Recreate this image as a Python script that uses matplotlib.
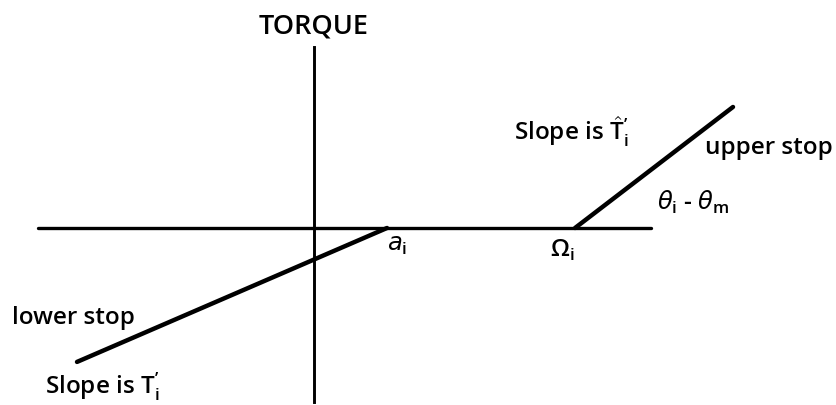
import numpy as np
import matplotlib.pyplot as plt

plt.rcParams['font.family'] = ['Open Sans', 'DejaVu Sans']
plt.rcParams['mathtext.fontset'] = 'custom'
plt.rcParams['mathtext.rm'] = 'Open Sans:semibold'
plt.rcParams['mathtext.sf'] = 'Open Sans:semibold'
plt.rcParams['mathtext.it'] = 'DejaVu Sans:italic'

# torque vs. relative angle, piecewise linear with two stops
axis_x = [-276, 337]        # extent of the angle axis
axis_y = [-174, 181]        # extent of the torque axis
a_i = 73                    # lower stop breakpoint
omega_i = 261               # upper stop breakpoint
lower_slope = 0.432         # T'_i
upper_slope = 0.766         # hat T'_i
lower_end = -237
upper_end = 419

fig = plt.figure(figsize=(8.37, 4.06), dpi=100)
ax = fig.add_axes([0, 0, 1, 1])
ax.set_xlim(-314, 523)
ax.set_ylim(-177, 229)
ax.axis('off')

# axes of the diagram
ax.plot(axis_x, [0, 0], color='black', lw=2.4, solid_capstyle='round')
ax.plot([0, 0], axis_y, color='black', lw=2.1)

# lower stop branch
xs = np.array([lower_end, a_i])
ax.plot(xs, lower_slope * (xs - a_i), color='black', lw=3.2, solid_capstyle='round')

# upper stop branch
xs = np.array([omega_i, upper_end])
ax.plot(xs, upper_slope * (xs - omega_i), color='black', lw=3.2, solid_capstyle='round')

fs = 17.5
kw = dict(va='center', fontsize=fs, fontweight='semibold')
ax.text(0, 203, 'TORQUE', ha='center', va='center', fontsize=19.5, fontweight='semibold')
ax.text(-302, -89, 'lower stop', ha='left', **kw)
ax.text(-269, -158, "Slope is $\\mathsf{T}^{\\mathsf{\u2019}}_{\\mathsf{i}}$", ha='left', **kw)
ax.text(391, 81, 'upper stop', ha='left', **kw)
ax.text(200, 97, "Slope is $\\hat{\\mathsf{T}}^{\\mathsf{\u2019}}_{\\mathsf{i}}$", ha='left', **kw)
ax.text(343, 27, "$\\theta_{\\mathsf{i}}$ - $\\theta_{\\mathsf{m}}$", ha='left', **kw)
ax.text(236, -21, "$\\Omega_{\\mathsf{i}}$", ha='left', **kw)
ax.text(73, -16, "$a_{\\mathsf{i}}$", ha='left', **kw)

fig.savefig('out.png', dpi=100)
